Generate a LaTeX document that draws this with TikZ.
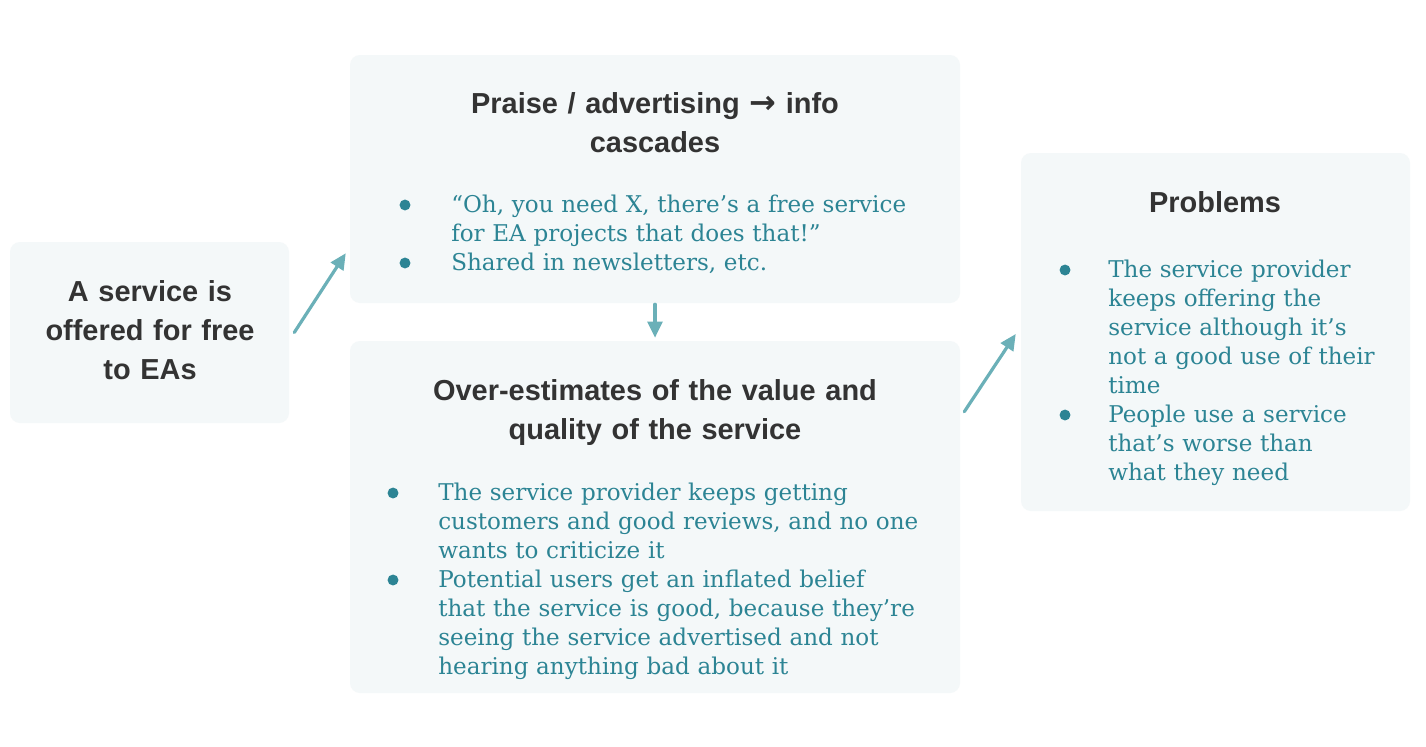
\documentclass[tikz,border=0pt]{standalone}
\usepackage{fontspec}
\setmainfont{DejaVu Serif}
\newfontfamily\headfont{Liberation Sans}
\newfontfamily\arrowfont{DejaVu Sans}
\usetikzlibrary{arrows.meta}
\definecolor{boxfill}{HTML}{F4F8F9}
\definecolor{headgray}{HTML}{333333}
\definecolor{bodyteal}{HTML}{2C8494}
\definecolor{arrowteal}{HTML}{6BB0B8}

\begin{document}
\begin{tikzpicture}[x=0.75pt,y=-0.75pt,line cap=round,line join=round,
  box/.style={fill=boxfill,rounded corners=7.5pt,inner sep=0pt},
  headtext/.style={anchor=base,text width=#1,align=center,inner sep=0pt,text=headgray,
    font=\headfont\bfseries\fontsize{21.7pt}{29.25pt}\selectfont},
  itemtext/.style={anchor=base west,text width=420pt,align=left,inner sep=0pt,text=bodyteal,
    font=\fontsize{17.3pt}{21.75pt}\selectfont},
  dot/.style={fill=bodyteal},
  conn/.style={draw=arrowteal,line width=2.4pt,-{Triangle[length=12pt,width=11pt]}}]
\fill[white] (0,0) rectangle (1426,746);
\useasboundingbox (0,0) rectangle (1426,746);

%%%%%%%%%%%%%%%% BOXES %%%%%%%%%%%%%%%%%%%
\node[box,minimum width=209.25pt,minimum height=135.75pt] (free) at (149.5,332.5) {};
\node[box,minimum width=457.5pt,minimum height=186pt] (praise) at (655,179) {};
\node[box,minimum width=457.5pt,minimum height=264pt] (over) at (655,517) {};
\node[box,minimum width=291.75pt,minimum height=268.5pt] (probs) at (1215.5,332) {};

%%%%%%%%%%%%%%%% TEXT %%%%%%%%%%%%%%%%%%%
\node[headtext=200pt] (freehead) at (150,301) {A service is\\offered for free\\to EAs};

\node[headtext=440pt] (praisehead) at (655,113) {Praise / advertising {\arrowfont\bfseries\fontsize{24pt}{29.25pt}\selectfont →} info\\cascades};
\fill[dot] (405,205) circle[radius=4.1pt];
\node[itemtext] (praise1) at (451,212) {“Oh, you need X, there’s a free service\\for EA projects that does that!”};
\fill[dot] (405,263) circle[radius=4.1pt];
\node[itemtext] (praise2) at (451,270) {Shared in newsletters, etc.};

\node[headtext=440pt] (overhead) at (655,400) {Over-estimates of the value and\\quality of the service};
\fill[dot] (393,493) circle[radius=4.1pt];
\node[itemtext] (over1) at (438,500) {The service provider keeps getting\\customers and good reviews, and no one\\wants to criticize it};
\fill[dot] (393,580) circle[radius=4.1pt];
\node[itemtext] (over2) at (438,587) {Potential users get an inflated belief\\that the service is good, because they’re\\seeing the service advertised and not\\hearing anything bad about it};

\node[headtext=280pt] (probhead) at (1215,212) {Problems};
\fill[dot] (1065,270) circle[radius=4.1pt];
\node[itemtext] (prob1) at (1108,277) {The service provider\\keeps offering the\\service although it’s\\not a good use of their\\time};
\fill[dot] (1065,415) circle[radius=4.1pt];
\node[itemtext] (prob2) at (1108,422) {People use a service\\that’s worse than\\what they need};

%%%%%%%%%%%%%%%% ARROWS %%%%%%%%%%%%%%%%%%%
\draw[conn] ([shift={(5,0)}]free.east) -- ([shift={(-4,-50)}]praise.south west);
\draw[conn] ([shift={(0,1)}]praise.south) -- ([shift={(0,-3)}]over.north);
\draw[conn] ([shift={(4,71)}]over.north east) -- ([shift={(-5,2)}]probs.west);

\end{tikzpicture}
\end{document}
